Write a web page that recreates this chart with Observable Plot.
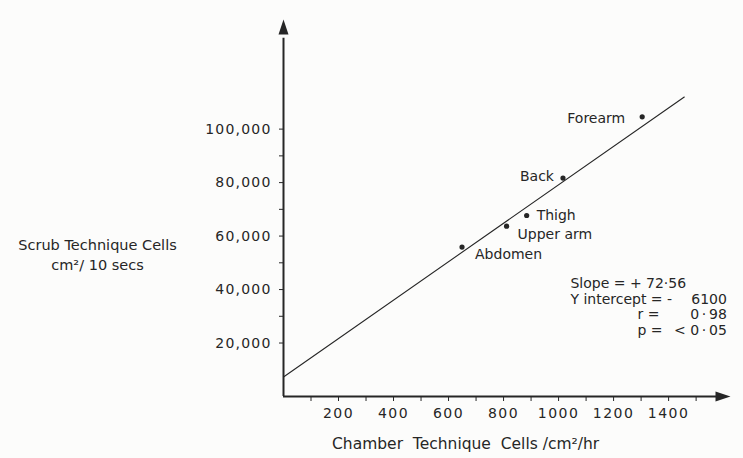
<!DOCTYPE html>
<html>
<head>
<meta charset="utf-8">
<script src="https://cdn.jsdelivr.net/npm/d3@7"></script>
<script src="https://cdn.jsdelivr.net/npm/@observablehq/plot@0.6"></script>
<style>
  html, body { margin: 0; padding: 0; background: #fcfcfb; }
  svg { display: block; }
  g[aria-label="x-axis tick label"] text { letter-spacing: 1.5px; }
  g[aria-label="y-axis tick label"] text { letter-spacing: 1.2px; }
  g[aria-label="site label"] text { letter-spacing: 1px; }
  g[aria-label="stat value"] text { letter-spacing: 1px; }
  g[aria-label="stat label"] text { letter-spacing: 0.3px; }
  g[aria-label="x title"] text { letter-spacing: 1.2px; }
  g[aria-label="y title"] text { letter-spacing: 0.5px; }
</style>
</head>
<body>
<div id="chart"></div>
<script>
// ---- data ----
const sites   = ["Forearm", "Back", "Thigh", "Upper arm", "Abdomen"];
const chamber = [1304, 1016, 884, 811, 649];          // cells/cm²/hr
const scrub   = [104600, 81700, 67700, 63700, 55900]; // cells/cm²/10 secs
const fitX = [0, 1457];
const fitY = [7300, 112000];
const xTickLabels = [200, 400, 600, 800, 1000, 1200, 1400];
const xMinorTicks = [100, 200, 300, 400, 500, 600, 700, 800, 900, 1000, 1100, 1200, 1300, 1400, 1500];
const yTickLabels = [20000, 40000, 60000, 80000, 100000];
const yMinorTicks = [30000, 50000, 70000, 90000];
const xTitle = "Chamber  Technique  Cells /cm²/hr";
const yTitle = "Scrub Technique Cells\ncm²/ 10 secs";
const statLabels = ["Slope = + 72·56", "Y intercept = -", "r =", "p ="];
const statValues = ["", "6100", "0\u2009·\u200998", "< 0\u2009·\u200905"];

const points = sites.map((s, i) => ({site: s, x: chamber[i], y: scrub[i]}));
const fit = fitX.map((x, i) => ({x, y: fitY[i]}));

const arrowUp = {draw(ctx) { ctx.moveTo(0, 0); ctx.lineTo(5, 15); ctx.lineTo(-5, 15); ctx.closePath(); }};
const arrowRight = {draw(ctx) { ctx.moveTo(0, 0); ctx.lineTo(-15, 5); ctx.lineTo(-15, -5); ctx.closePath(); }};

const ink = "#262626";
const X_MAX = 1625, Y_MAX = 141000;
// statistics block: first line centre and line step, in y data units
const STAT_TOP = 42260, STAT_STEP = 5870;

const siteLabel = (name, opts) => Plot.text(points.filter(d => d.site === name),
  {x: "x", y: "y", text: "site", fill: ink, fontSize: 14, ariaLabel: "site label", ...opts});

const chart = Plot.plot({
  width: 743,
  height: 458,
  marginLeft: 283,
  marginRight: 13,
  marginTop: 19,
  marginBottom: 62,
  x: {domain: [0, X_MAX]},
  y: {domain: [0, Y_MAX]},
  style: {background: "#fcfcfb", fontFamily: "DejaVu Sans", fontSize: "14px", color: ink},
  marks: [
    // axes lines + arrowheads
    Plot.ruleX([0], {y1: 0, y2: Y_MAX * 0.95, stroke: ink, strokeWidth: 2}),
    Plot.ruleY([0], {x1: 0, x2: X_MAX * 0.97, stroke: ink, strokeWidth: 2}),
    Plot.dot([0], {x: 0, y: () => Y_MAX, symbol: arrowUp, fill: ink, stroke: null}),
    Plot.dot([0], {x: () => X_MAX, y: 0, symbol: arrowRight, fill: ink, stroke: null}),
    // ticks
    Plot.axisX(xMinorTicks, {tickSize: 5, tickFormat: () => "", label: null, stroke: ink}),
    Plot.axisX(xTickLabels, {tickSize: 0, tickPadding: 12, label: null, tickFormat: d => String(d), fill: ink, fontSize: 14}),
    Plot.axisY(yMinorTicks, {tickSize: 4, tickFormat: () => "", label: null, stroke: ink}),
    Plot.axisY(yTickLabels, {tickSize: 4, tickPadding: 8, label: null, tickFormat: d3.format(","),
      stroke: ink, fill: ink, fontSize: 14}),
    // regression line
    Plot.line(fit, {x: "x", y: "y", stroke: ink, strokeWidth: 1.1}),
    // points
    Plot.dot(points, {x: "x", y: "y", r: 2.6, fill: ink, stroke: null}),
    // point labels
    siteLabel("Forearm",   {textAnchor: "end",   dx: -17, dy: 2}),
    siteLabel("Back",      {textAnchor: "end",   dx: -9,  dy: -2}),
    siteLabel("Thigh",     {textAnchor: "start", dx: 10,  dy: 0}),
    siteLabel("Upper arm", {textAnchor: "start", dx: 11,  dy: 8}),
    siteLabel("Abdomen",   {textAnchor: "start", dx: 13,  dy: 7}),
    // statistics
    Plot.text(statLabels, {x: (d, i) => (i < 2 ? 1043 : 1287), y: (d, i) => STAT_TOP - i * STAT_STEP,
      text: d => d, textAnchor: "start", fill: ink, fontSize: 14, ariaLabel: "stat label"}),
    Plot.text(statValues, {x: () => 1612, y: (d, i) => STAT_TOP - i * STAT_STEP,
      text: d => d, textAnchor: "end", fill: ink, fontSize: 14, ariaLabel: "stat value"}),
    // axis titles
    Plot.text([xTitle], {x: () => 662, frameAnchor: "bottom", dy: 52, text: d => d, textAnchor: "middle",
      fill: ink, fontSize: 15.5, ariaLabel: "x title"}),
    Plot.text([yTitle], {frameAnchor: "left", y: () => 53400, dx: -186, text: d => d, textAnchor: "middle",
      lineAnchor: "middle", lineHeight: 1.4, fill: ink, fontSize: 14.5, ariaLabel: "y title"})
  ]
});
document.getElementById("chart").appendChild(chart);
</script>
</body>
</html>
